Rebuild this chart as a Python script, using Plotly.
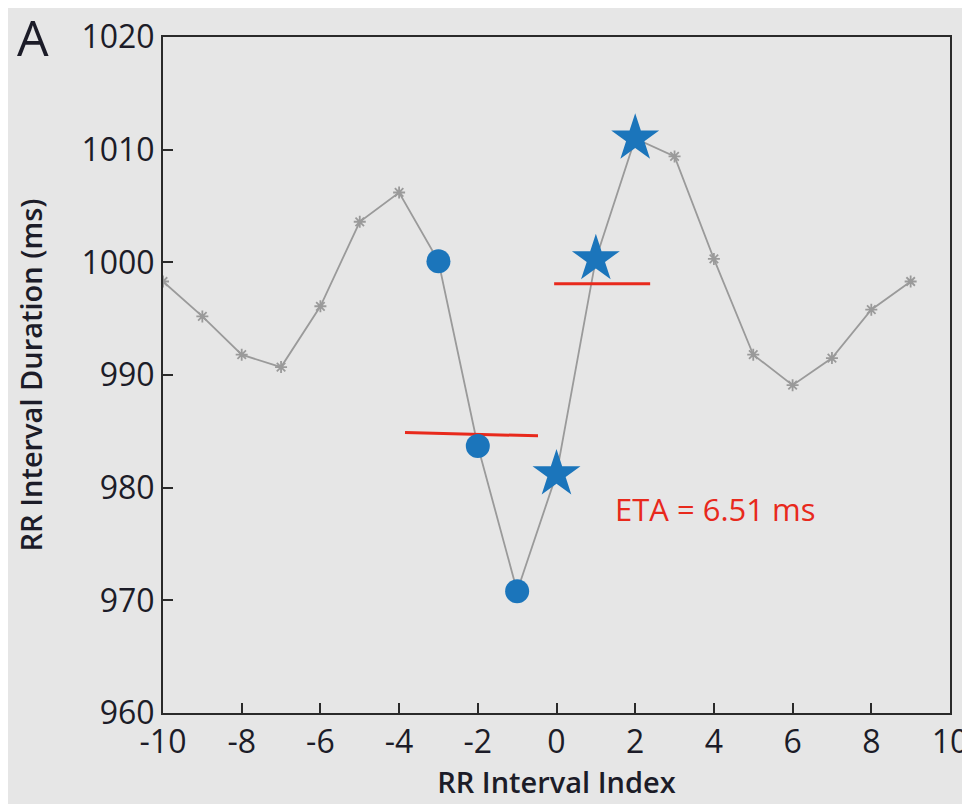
import plotly.graph_objects as go

idx = list(range(-10, 10))
rr = [998.3, 995.2, 991.8, 990.7, 996.1, 1003.6, 1006.2, 1000.1, 983.7, 970.8,
      981.2, 1000.3, 1011.0, 1009.4, 1000.3, 991.8, 989.1, 991.5, 995.8, 998.3]

pre_idx = [-3, -2, -1]
pre_rr = [1000.1, 983.7, 970.8]
post_idx = [0, 1, 2]
post_rr = [981.2, 1000.3, 1011.0]

pre_mean_x = [-3.85, -0.47]
pre_mean_y = [984.9, 984.6]
post_mean_x = [-0.06, 2.38]
post_mean_y = [998.1, 998.1]

x_ticks = [-10, -8, -6, -4, -2, 0, 2, 4, 6, 8, 10]
x_ticktext = ["-10", "-8", "-6", "-4", "-2", "0", "2", "4", "6", "8", "10"]
y_ticks = [960, 970, 980, 990, 1000, 1010, 1020]

BG = "#e6e6e6"
BLUE = "#1b75bb"
RED = "#e8291c"
FONT = "Open Sans"
INK = "#1c1c28"

fig = go.Figure()
fig.add_trace(go.Scatter(x=idx, y=rr, mode="lines+markers",
                         line=dict(color="#9a9a9a", width=1.8),
                         marker=dict(symbol="asterisk-open", size=10,
                                     line=dict(color="#999999", width=1.8)),
                         showlegend=False))
fig.add_trace(go.Scatter(x=pre_mean_x, y=pre_mean_y, mode="lines",
                         line=dict(color=RED, width=3), showlegend=False))
fig.add_trace(go.Scatter(x=post_mean_x, y=post_mean_y, mode="lines",
                         line=dict(color=RED, width=3), showlegend=False))
fig.add_trace(go.Scatter(x=pre_idx, y=pre_rr, mode="markers",
                         marker=dict(symbol="circle", size=24, color=BLUE),
                         showlegend=False))
fig.add_trace(go.Scatter(x=post_idx, y=post_rr, mode="markers",
                         marker=dict(symbol="star", size=36, color=BLUE),
                         showlegend=False))

fig.add_annotation(x=4.05, y=978.1, text="ETA = 6.51 ms", showarrow=False,
                   font=dict(family=FONT, size=31, color=RED))
fig.add_annotation(x=-0.165, y=1.0, xref="paper", yref="paper", text="A",
                   showarrow=False, xanchor="center", yanchor="middle",
                   font=dict(family=FONT, size=50, color=INK, weight=500))

axis_common = dict(showline=True, linecolor="#2a2a2a", linewidth=2, mirror=True,
                   ticks="inside", ticklen=10, tickwidth=2, tickcolor="#2a2a2a",
                   showgrid=False, zeroline=False,
                   tickfont=dict(family=FONT, size=32, color=INK))

fig.update_xaxes(range=[-10, 10], tickvals=x_ticks, ticktext=x_ticktext,
                 title=dict(text="RR Interval Index",
                            font=dict(family=FONT, size=29, color=INK, weight=600),
                            standoff=6),
                 **axis_common)
fig.update_yaxes(range=[960, 1020], tickvals=y_ticks,
                 title=dict(text="RR Interval Duration (ms)",
                            font=dict(family=FONT, size=29, color=INK, weight=600),
                            standoff=30),
                 **axis_common)

fig.update_layout(width=962, height=796, paper_bgcolor=BG, plot_bgcolor=BG,
                  margin=dict(l=155, r=20, t=29, b=91, autoexpand=False))

fig.write_html("out.html")
